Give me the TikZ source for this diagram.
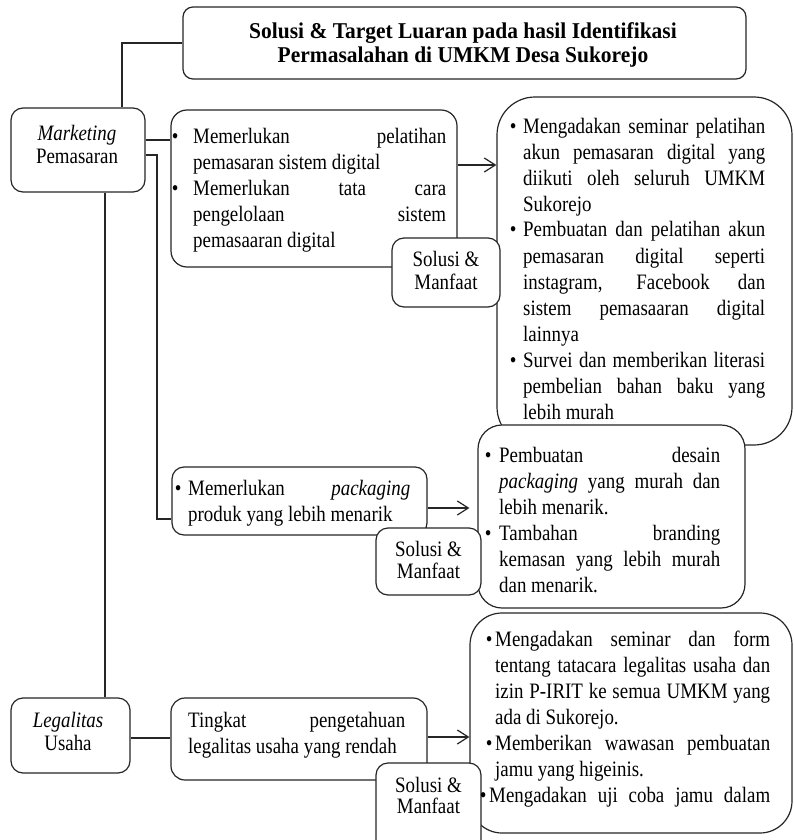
\documentclass[tikz,border=0pt]{standalone}
\usepackage{fontspec}
\setmainfont{Liberation Serif}[FakeStretch=0.86]
\newfontfamily\titlefont{Liberation Serif}[FakeStretch=0.95]
\usetikzlibrary{arrows.meta}
\newcommand{\jl}[1]{\makebox[\linewidth][s]{#1}}
\newcommand{\bu}[1]{\leavevmode\llap{\textbullet\hspace{#1pt}}}
\newcommand{\bodyfont}{\fontsize{22}{26}\selectfont}
\tikzset{
  box/.style={draw=black!85, line width=1.2pt, fill=white, rounded corners=#1, inner sep=0pt},
  conn/.style={draw=black!85, line width=1.2pt},
  arr/.style={conn, -{Straight Barb[length=11pt,width=14pt,line width=1.2pt]}},
  txt/.style={inner sep=0pt, anchor=base west},
  ctxt/.style={inner sep=0pt, anchor=base},
}
\begin{document}
\begin{tikzpicture}[x=1pt,y=-1pt]
\clip (0,0) rectangle (793,840);
\fill[white] (0,0) rectangle (793,840);
% boxes
\node[box=10pt, minimum width=563pt, minimum height=72pt] (title) at (464.5,43) {};
\node[box=12pt, minimum width=134pt, minimum height=84pt] (mkt) at (78,150) {};
\node[box=12pt, minimum width=119pt, minimum height=75pt] (leg) at (70.5,735.5) {};
\node[box=16pt, minimum width=286pt, minimum height=157pt] (p1) at (314,188.5) {};
\node[box=12pt, minimum width=255pt, minimum height=68pt] (p2) at (299.5,501) {};
\node[box=14pt, minimum width=256pt, minimum height=82pt] (p3) at (299,739) {};
\node[box=38pt, minimum width=295pt, minimum height=348pt] (r1) at (644.5,271) {};
\node[box=24pt, minimum width=267pt, minimum height=183pt] (r2) at (611.5,516.5) {};
\node[box=32pt, minimum width=322pt, minimum height=220pt] (r3) at (631,723) {};
% helper coordinates
\coordinate (tx) at (122,0);
\coordinate (ya) at (0,140);
\coordinate (yb) at (0,155);
\coordinate (k1) at (157,519);
\coordinate (xv) at (105,0);
\coordinate (yl) at (0,738);
\coordinate (y1) at (0,165);
\coordinate (y2) at (0,508);
\coordinate (y3) at (0,737);
% connectors
\draw[conn] (mkt.north -| tx) |- (title.west);
\draw[conn] (mkt.east |- ya) -- (p1.west |- ya);
\draw[conn] (mkt.east |- yb) -| (k1) -- (p2.west |- k1);
\draw[conn] (mkt.south -| xv) -- (leg.north -| xv);
\draw[conn] (leg.east |- yl) -- (p3.west |- yl);
\draw[arr] (p1.east |- y1) -- (r1.west |- y1);
\draw[arr, shorten >=8pt] (p2.east |- y2) -- (r2.west |- y2);
\draw[arr] (p3.east |- y3) -- (r3.west |- y3);
% solusi boxes
\node[box=12pt, minimum width=108pt, minimum height=69pt] (s1) at (446,272.5) {};
\node[box=12pt, minimum width=105pt, minimum height=67pt] (s2) at (428.5,561.5) {};
\node[box=12pt, minimum width=105pt, minimum height=97pt] (s3) at (428.5,811.5) {};
% texts
\node[ctxt] (titletext) at (463,39) {\parbox[t]{540pt}{\centering\titlefont\fontsize{22.6}{24}\selectfont\bfseries
  Solusi \& Target Luaran pada hasil Identifikasi\\Permasalahan di UMKM Desa Sukorejo}};
\node[ctxt] (mkttext) at (77,140) {\parbox[t]{125pt}{\centering\fontsize{22}{23}\selectfont
  \textit{Marketing}\\Pemasaran}};
\node[ctxt] (legtext) at (68,727) {\parbox[t]{115pt}{\centering\fontsize{22}{23}\selectfont
  \textit{Legalitas}\\Usaha}};
\node[txt] (p1text) at (193,143) {\parbox[t]{253pt}{\bodyfont
  \bu{14.7}\jl{Memerlukan pelatihan}\\
  pemasaran sistem digital\\
  \bu{14.7}\jl{Memerlukan tata cara}\\
  \jl{pengelolaan sistem}\\
  pemasaaran digital}};
\node[txt] (r1text) at (523,133) {\parbox[t]{242pt}{\bodyfont
  \bu{6.7}\jl{Mengadakan seminar pelatihan}\\
  \jl{akun pemasaran digital yang}\\
  \jl{diikuti oleh seluruh UMKM}\\
  Sukorejo\\
  \bu{6.7}\jl{Pembuatan dan pelatihan akun}\\
  \jl{pemasaran digital seperti}\\
  \jl{instagram, Facebook dan}\\
  \jl{sistem pemasaaran digital}\\
  lainnya\\
  \bu{6.7}\jl{Survei dan memberikan literasi}\\
  \jl{pembelian bahan baku yang}\\
  lebih murah}};
\node[txt] (p2text) at (188,495) {\parbox[t]{222pt}{\bodyfont
  \bu{6.7}\jl{Memerlukan \textit{packaging}}\\
  produk yang lebih menarik}};
\node[txt] (r2text) at (499,462) {\parbox[t]{221pt}{\bodyfont
  \bu{7.7}\jl{Pembuatan desain}\\
  \jl{\textit{packaging} yang murah dan}\\
  lebih menarik.\\
  \bu{7.7}\jl{Tambahan branding}\\
  \jl{kemasan yang lebih murah}\\
  dan menarik.}};
\node[txt] (p3text) at (188,727) {\parbox[t]{217pt}{\bodyfont
  \jl{Tingkat pengetahuan}\\
  legalitas usaha yang rendah}};
\node[txt] (r3text) at (495,646) {\parbox[t]{275pt}{\bodyfont
  \bu{2.7}\jl{Mengadakan seminar dan form}\\
  \jl{tentang tatacara legalitas usaha dan}\\
  \jl{izin P-IRIT ke semua UMKM yang}\\
  ada di Sukorejo.\\
  \bu{2.7}\jl{Memberikan wawasan pembuatan}\\
  jamu yang higeinis.\\
  \hspace*{-6pt}\bu{2.7}\makebox[\dimexpr\linewidth+6pt\relax][s]{Mengadakan uji coba jamu dalam}}};
\node[ctxt] (s1text) at (446,266) {\parbox[t]{100pt}{\centering\fontsize{22}{23}\selectfont Solusi \&\\Manfaat}};
\node[ctxt] (s2text) at (428.5,556) {\parbox[t]{100pt}{\centering\fontsize{22}{22}\selectfont Solusi \&\\Manfaat}};
\node[ctxt] (s3text) at (428.5,792) {\parbox[t]{100pt}{\centering\fontsize{22}{21.5}\selectfont Solusi \&\\Manfaat}};
\end{tikzpicture}
\end{document}
